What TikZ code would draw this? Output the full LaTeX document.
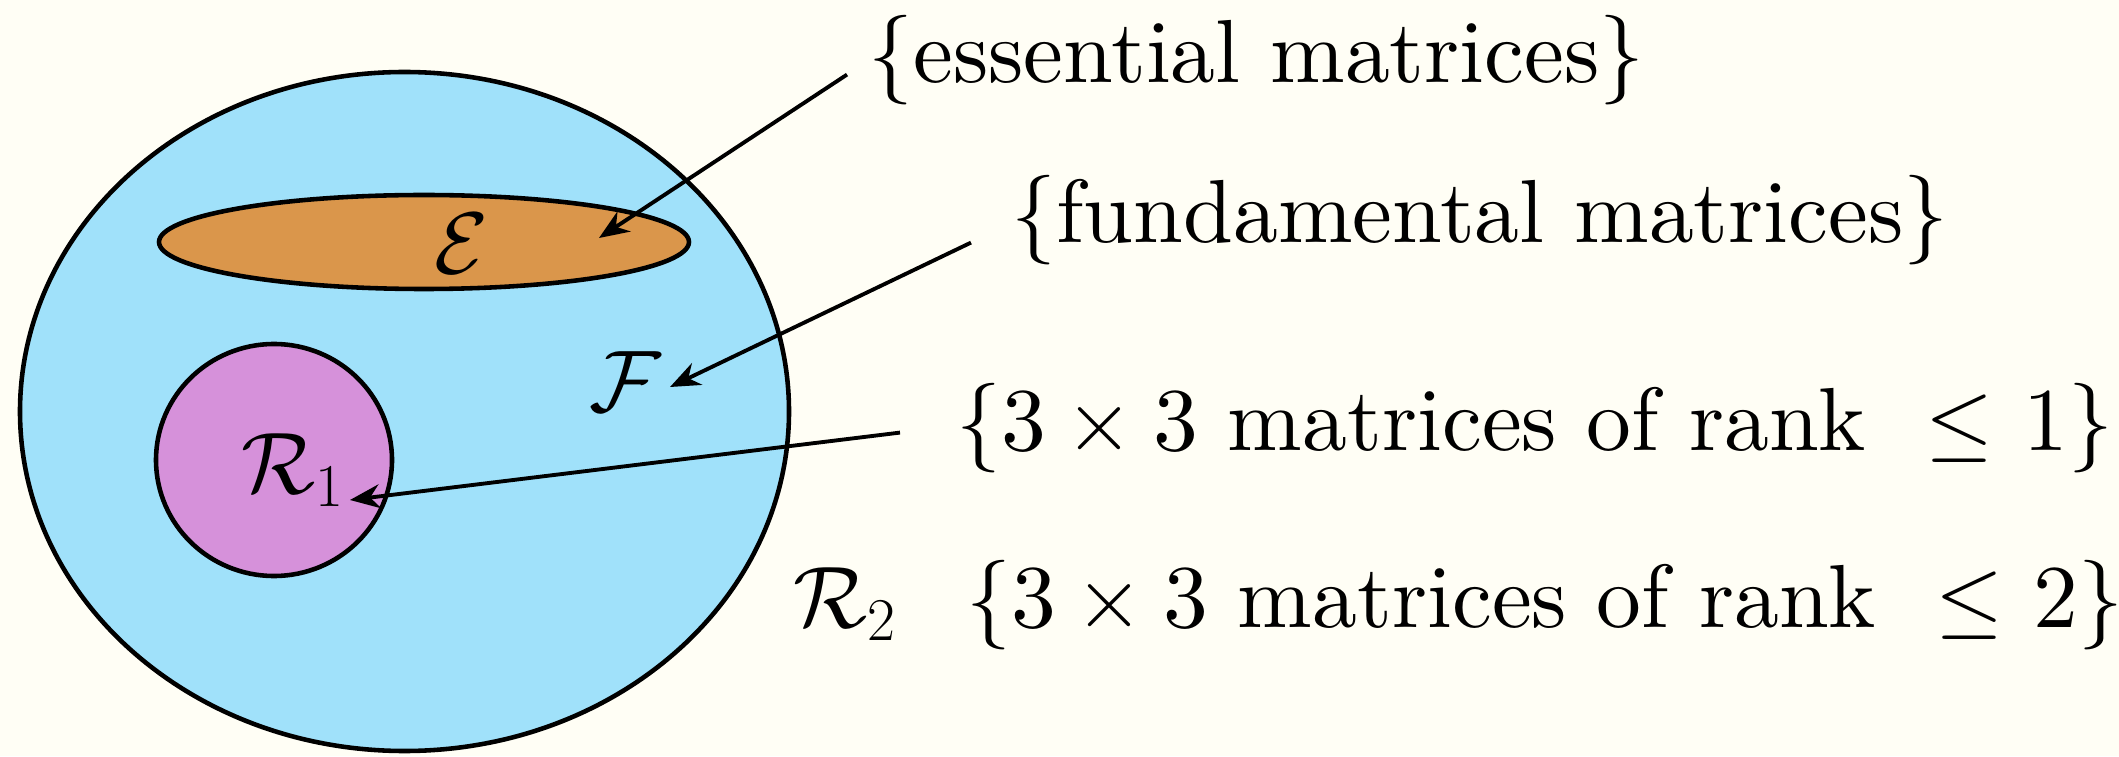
\documentclass[tikz,border=0pt]{standalone}
\usepackage{amsmath,amssymb}
\usepackage{fontspec}
\setmainfont{lmroman10-regular.otf}
\usetikzlibrary{arrows.meta}
\definecolor{bgcream}{RGB}{255,254,245}
\definecolor{setblue}{RGB}{160,225,250}
\definecolor{setorange}{RGB}{218,150,75}
\definecolor{setpink}{RGB}{214,145,218}
\begin{document}
\begin{tikzpicture}[font=\fontsize{25.5}{30}\selectfont,
  setline/.style={draw=black,line width=1.3pt},
  lbl/.style={inner sep=0pt,anchor=base west},
  pointer/.style={-{Stealth[length=0.3cm,width=0.24cm]},line width=1.1pt}]
\useasboundingbox[fill=bgcream] (0,0) rectangle (21.19,7.56);
% the sets
\filldraw[setline,fill=setblue] (4.045,3.445) ellipse (3.845 and 3.395);
\filldraw[setline,fill=setorange] (4.24,5.14) ellipse (2.65 and 0.47);
\filldraw[setline,fill=setpink] (2.74,2.96) ellipse (1.18 and 1.16);
% set names
\node[lbl] (E) at (4.34,4.82) {$\mathcal{E}$};
\node[lbl] (F) at (5.89,3.44) {$\mathcal{F}$};
\node[lbl] (R1) at (2.41,2.63) {$\mathcal{R}_1$};
\node[lbl] (R2) at (7.93,1.29) {$\mathcal{R}_2$};
% descriptions
\node[lbl] (ess) at (8.68,6.73) {\{essential matrices\}};
\node[lbl] (fund) at (10.11,5.13) {\{fundamental matrices\}};
\node[lbl] (rankone) at (9.56,3.06) {\{3${}\times{}$3 matrices of rank \ $\leq$ 1\}};
\node[lbl] (ranktwo) at (9.66,1.29) {\{3${}\times{}$3 matrices of rank \ $\leq$ 2\}};
% arrow tips
\coordinate (etip) at (5.99,5.18);
\coordinate (ftip) at (6.70,3.69);
\coordinate (rtip) at (3.50,2.56);
\draw[pointer] ([shift={(-0.21,-0.14)}]ess.west) -- (etip);
\draw[pointer] ([shift={(-0.40,-0.22)}]fund.west) -- (ftip);
\draw[pointer] ([shift={(-0.56,-0.05)}]rankone.west) -- (rtip);
\end{tikzpicture}
\end{document}
